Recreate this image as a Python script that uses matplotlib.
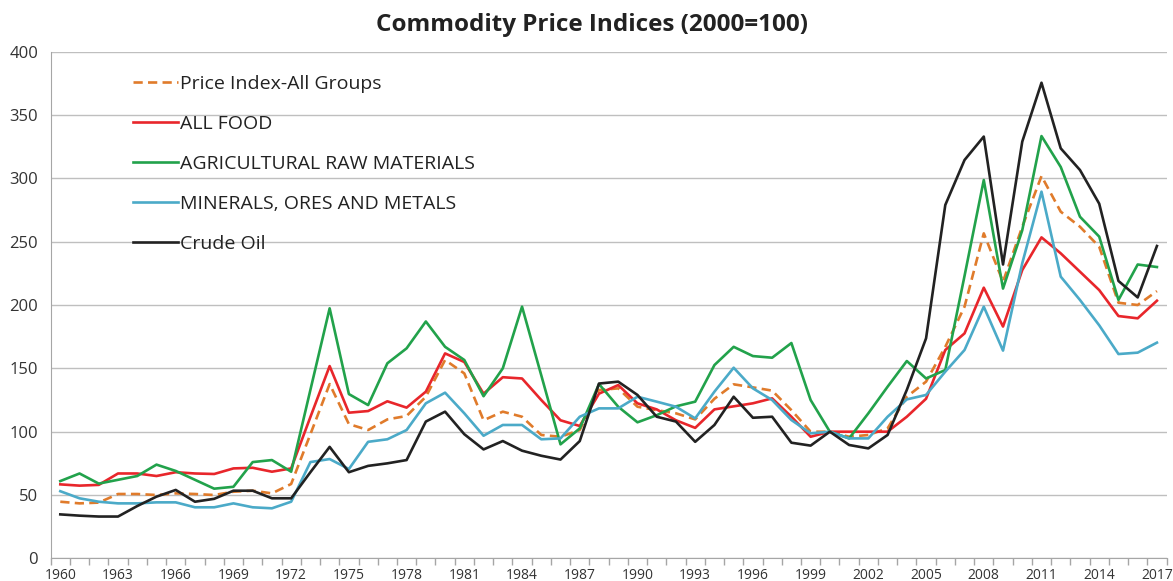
import numpy as np
import matplotlib
matplotlib.use("Agg")
import matplotlib.pyplot as plt

years = list(range(1960, 2018))

all_groups = [44.7, 43.4, 44, 50.8, 50.8, 50, 51.3, 50.8, 50, 52.6,
              53.4, 51.3, 58.7, 98, 137.6, 106, 101.3, 109.7, 112.4, 127.6,
              156.6, 146, 109, 115.8, 111.8, 97.4, 96, 101.3, 132.9, 134.2,
              119.7, 117, 114.5, 109.7, 126, 137.4, 135, 132.4, 117, 100,
              100, 96, 97.4, 102.6, 127.6, 139.5, 167, 198.7, 256.6, 218.4,
              261.8, 301.8, 273.7, 261.8, 246, 201.8, 200, 211]

all_food = [58.4, 57.4, 58, 67, 67, 65, 68, 67, 66.6, 71,
            71.5, 68.4, 71, 111.6, 151.8, 115, 116.3, 124, 119, 131.6,
            161.8, 155, 130, 143, 142, 125, 109, 104.5, 130, 136.8,
            122.4, 117.6, 109, 103, 117.6, 120, 122.4, 126.3, 111.8, 96,
            100, 100, 100, 100, 111.8, 126, 164.5, 177.6, 213.7, 183,
            227.6, 253.4, 240.8, 226.3, 211.8, 191.3, 189.5, 203.4]

agri_raw = [61, 67, 59, 62, 65, 74, 69, 62, 55, 56.5,
            76, 77.6, 68.4, 133, 197.4, 129.7, 121, 154, 165.8, 187,
            167, 156.6, 128, 150, 198.7, 144.5, 90, 102.6, 137.6, 119.7,
            107.4, 113, 120, 123.7, 152.6, 167, 159.7, 158.4, 170, 125,
            100, 94.7, 114.5, 135.5, 155.8, 142, 148.7, 223, 298.7, 213,
            259, 333.4, 309, 269.7, 254, 204, 232, 230]

minerals = [53, 47.4, 44.7, 43.4, 43.4, 44.2, 44.2, 40.3, 40.3, 43.4,
            40.3, 39.5, 44.7, 76, 78.4, 70.5, 92, 94, 101.3, 122.4,
            130.8, 114.5, 96.8, 105.3, 105.3, 94, 94.7, 111.8, 118.4, 118.4,
            127.6, 123.7, 119.7, 110.5, 131.6, 150.5, 134.2, 125, 109.2, 98.7,
            100, 94.7, 94.7, 111.8, 125.5, 129, 147.4, 164.5, 198.7, 164,
            233, 289.5, 222.4, 204, 184, 161.3, 162.4, 170.3]

crude_oil = [34.7, 33.7, 33, 33, 41.3, 48.7, 54, 44.7, 47, 53.4,
             53.4, 47.4, 47.4, 68, 88, 68, 73, 75, 77.6, 108,
             115.8, 98, 86, 92.6, 85, 81, 78, 92.6, 138, 139.5,
             129, 111.8, 108, 92, 105.3, 127.6, 111, 111.8, 91.3, 89,
             100, 89.5, 86.8, 97.4, 133, 173.7, 279, 314.5, 333, 232,
             329, 375.5, 323.7, 306.6, 280, 219, 206, 246.6]

labels = ["Price Index-All Groups", "ALL FOOD", "AGRICULTURAL RAW MATERIALS",
          "MINERALS, ORES AND METALS", "Crude Oil"]
xtick_years = list(range(1960, 2018, 3))
yticks = list(range(0, 401, 50))

plt.rcParams['font.family'] = ['Open Sans', 'DejaVu Sans']

fig = plt.figure(figsize=(11.73, 5.81), dpi=100)
ax = fig.add_axes([0.0432, 0.039, 0.9513, 0.872])

lw = 1.9
ax.plot(years, all_groups, color='#E07B2B', lw=lw, ls=(0, (3.5, 2)), label=labels[0], zorder=3)
ax.plot(years, all_food, color='#E8262B', lw=lw, label=labels[1], zorder=3)
ax.plot(years, agri_raw, color='#22A24B', lw=lw, label=labels[2], zorder=3)
ax.plot(years, minerals, color='#4BAAC8', lw=lw, label=labels[3], zorder=3)
ax.plot(years, crude_oil, color='#222222', lw=lw, label=labels[4], zorder=3)

ax.set_xlim(1959.5, 2017.5)
ax.set_ylim(0, 400)
ax.set_yticks(yticks)
ax.set_xticks(xtick_years)
ax.set_xticks(np.arange(1959.5, 2018, 1), minor=True)
ax.tick_params(axis='x', which='major', length=0, pad=7, labelsize=10, labelcolor='#333333')
ax.tick_params(axis='x', which='minor', length=5, color='#A6A6A6', width=1)
ax.tick_params(axis='y', length=0, pad=9, labelsize=12, labelcolor='#333333')

ax.grid(axis='y', color='#BFBFBF', lw=1)
ax.set_axisbelow(True)
for s in ['top', 'right']:
    ax.spines[s].set_visible(False)
ax.spines['left'].set_color('#A6A6A6')
ax.spines['bottom'].set_color('#A6A6A6')

leg = ax.legend(loc='upper left', bbox_to_anchor=(0.058, 0.988), frameon=False,
                fontsize=14, handlelength=2.3, handletextpad=0.1,
                labelspacing=1.13, labelcolor='#222222')

fig.text(0.5045, 0.957, "Commodity Price Indices (2000=100)", ha='center', va='center',
         fontsize=17.5, fontweight='bold', color='#222222')

fig.savefig('out.png', dpi=100)
